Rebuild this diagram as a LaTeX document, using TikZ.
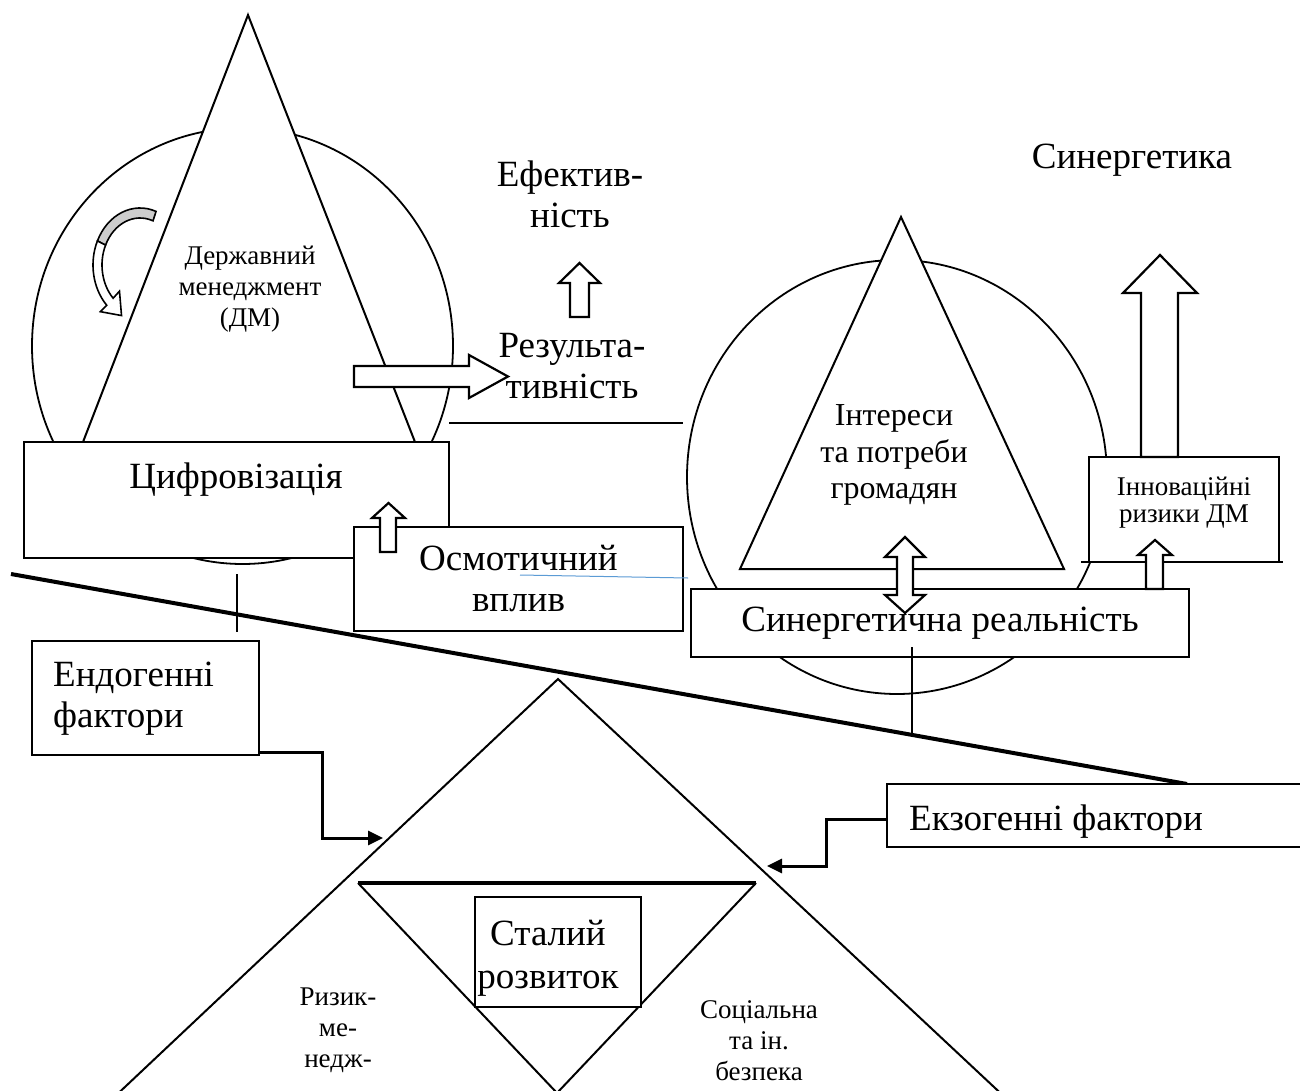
\documentclass[tikz,border=0pt]{standalone}
\usepackage{fontspec}
\setmainfont{Liberation Serif}
\usetikzlibrary{calc,arrows.meta,positioning}
\newcommand\bigsize{\fontsize{37}{41}\selectfont}
\newcommand\midsize{\fontsize{32}{36.5}\selectfont}
\newcommand\smallsize{\fontsize{27}{31}\selectfont}
\definecolor{markblue}{RGB}{91,155,213}

\begin{document}
\begin{tikzpicture}
  [x=1pt, y=-1pt,
   box/.style={draw, fill=white, line width=1.3pt, inner sep=0pt},
   figure/.style={draw, fill=white, line width=2pt, line join=miter},
   block arrow/.style={draw, fill=white, line width=2.2pt, line join=miter},
   conn/.style={line width=3pt, -{Triangle[length=15pt, width=14pt]}},
   bar/.style={line width=2.5pt},
   txt/.style={inner sep=0pt, align=center}]

  \useasboundingbox (0,0) rectangle (1300,1091);
  \clip (0,0) rectangle (1300,1091);

  % left part: public management
  \draw
  [line width=1.8pt]
  (242.5,346) ellipse [x radius=210.5, y radius=218];

  \coordinate (dmtop) at (248,15);
  \coordinate (dmleft) at (83,442);
  \coordinate (dmright) at (415,442);
  \draw
  [figure]
  (dmtop) -- (dmleft) -- (dmright) -- cycle;

  \coordinate (cur) at (140,265);
  \filldraw
  [line width=1.6pt, fill=gray!40]
  ($(cur)+(290:47 and 57)$)
  arc[start angle=290, end angle=205, x radius=47, y radius=57]
  -- ($(cur)+(205:38 and 47)$)
  arc[start angle=205, end angle=290, x radius=38, y radius=47]
  -- cycle;
  \filldraw
  [line width=1.6pt, fill=white, line join=miter]
  ($(cur)+(205:47 and 57)$)
  arc[start angle=205, end angle=135, x radius=47, y radius=57]
  -- ($(cur)+(135:56 and 66)$)
  -- ($(cur)+(135:42.5 and 52)+(50:18)$)
  -- ($(cur)+(135:29 and 37)$)
  -- ($(cur)+(135:38 and 47)$)
  arc[start angle=135, end angle=205, x radius=38, y radius=47]
  -- cycle;

  \node
  [txt, font=\smallsize]
  (dm) at (250,289) {Державний\\менеджмент\\(ДМ)};

  \node
  [box, line width=2.2pt, minimum width=425pt, minimum height=116pt]
  (digit) at (236.5,500) {};
  \node
  [txt, font=\bigsize, anchor=base]
  (digittext) at (236,488) {Цифровізація};

  \node
  [box, minimum width=329pt, minimum height=104pt, font=\bigsize, align=center]
  (osmo) at (518.5,579) {Осмотичний\\вплив};
  \draw
  [markblue, line width=1pt]
  (520,575) -- (688,578);

  \draw
  [block arrow]
  (380,552) -- (380,518) -- (372,518) -- (388.5,503)
  -- (405,518) -- (396,518) -- (396,552) -- cycle;

  \draw
  [block arrow]
  (354,366) -- (469,366) -- (469,355) -- (508,376.5)
  -- (469,398) -- (469,387) -- (354,387) -- cycle;

  % results
  \node
  [txt, font=\bigsize]
  (effect) at (570,194) {Ефектив-\\ність};
  \node
  [txt, font=\bigsize]
  (result) at (572,366) {Результа-\\тивність};
  \draw
  [block arrow]
  (570,317) -- (570,283) -- (559,283) -- (579.5,263)
  -- (600,283) -- (589,283) -- (589,317) -- cycle;

  \coordinate (midL) at (449,423);
  \coordinate (midR) at (683,423);
  \draw
  [line width=2pt]
  (midL) -- (midR);

  % right part: synergetics
  \draw
  [line width=1.8pt]
  (897,477) ellipse [x radius=210, y radius=217];

  \coordinate (cittop) at (901,217);
  \coordinate (citleft) at (740,569);
  \coordinate (citright) at (1064,569);
  \draw
  [figure]
  (cittop) -- (citleft) -- (citright) -- cycle;
  \node
  [txt, font=\midsize]
  (citizens) at (894,455) {Інтереси\\та потреби\\громадян};

  \node
  [box, line width=2.2pt, minimum width=498pt, minimum height=68pt, font=\bigsize]
  (synreal) at (940,623) {Синергетична реальність};

  \node
  [box, minimum width=190pt, minimum height=105pt]
  (innov) at (1184,509.5) {};
  \node
  [txt, font=\smallsize]
  (innovtext) at (1184,503) {Інноваційні\\[-4pt]ризики ДМ};
  \coordinate (innovL) at (1081,562);
  \coordinate (innovR) at (1283,562);
  \draw
  [line width=2pt]
  (innovL) -- (innovR);

  \draw
  [block arrow]
  (1141,457) -- (1141,293) -- (1123,293) -- (1160,255)
  -- (1197,293) -- (1178,293) -- (1178,457) -- cycle;

  \draw
  [block arrow]
  (1146,589) -- (1146,555) -- (1138,555) -- (1155,540)
  -- (1172,555) -- (1163,555) -- (1163,589) -- cycle;

  \draw
  [block arrow]
  (897,557) -- (885,557) -- (905,537) -- (925,557) -- (913,557)
  -- (913,595) -- (925,595) -- (905,613) -- (885,595) -- (897,595) -- cycle;

  \node
  [txt, font=\bigsize, anchor=base]
  (synerg) at (1132,169) {Синергетика};

  % dividing line
  \coordinate (slantL) at (11,574);
  \coordinate (slantR) at (1187,784);
  \draw
  [line width=4pt]
  (slantL) -- (slantR);

  \coordinate (dmfoot) at (237,574);
  \coordinate (dmfoot2) at (237,632);
  \draw
  [bar]
  (dmfoot) -- (dmfoot2);

  \coordinate (synfoot) at (912,647);
  \coordinate (synfoot2) at (912,737);
  \draw
  [bar]
  (synfoot) -- (synfoot2);

  % factors
  \node
  [box, minimum width=227pt, minimum height=114pt]
  (endo) at (145.5,698) {};
  \node
  [txt, font=\bigsize, align=left, anchor=north west]
  (endotext) at (53,662) {Ендогенні\\фактори};

  \node
  [box, minimum width=423pt, minimum height=63pt]
  (exo) at (1098.5,815.5) {};
  \node
  [txt, font=\bigsize, anchor=base]
  (exotext) at (1056,830) {Екзогенні фактори};

  % sustainable development
  \coordinate (bigtop) at (558,679);
  \coordinate (bigleft) at (109,1102);
  \coordinate (bigright) at (1010,1102);
  \draw
  [line width=2pt]
  (bigleft) -- (bigtop) -- (bigright);

  \coordinate (invleft) at (358,883);
  \coordinate (invright) at (756,883);
  \coordinate (invbottom) at (557,1093);
  \draw
  [line width=2pt]
  (invleft) -- (invbottom) -- (invright);
  \draw
  [line width=4pt]
  (invleft) -- (invright);

  \node
  [box, line width=1.1pt, minimum width=166pt, minimum height=110pt]
  (stable) at (558,952) {};
  \node
  [txt, font=\bigsize]
  (stabletext) at (548,958) {Сталий\\[2pt]розвиток};

  \node
  [txt, font=\smallsize]
  (risk) at (338,1030) {Ризик-\\ме-\\недж-};
  \node
  [txt, font=\smallsize]
  (social) at (759,1041) {Соціальна\\та ін.\\безпека};

  \coordinate (endotip) at (383,838);
  \coordinate (exotip) at (767,866);
  \draw
  [conn]
  ([yshift=3pt]endo.south east) -- ++(63,0) |- (endotip);
  \draw
  [conn]
  ([yshift=-3.5pt]exo.west) -- ++(-60,0) |- (exotip);
\end{tikzpicture}
\end{document}
